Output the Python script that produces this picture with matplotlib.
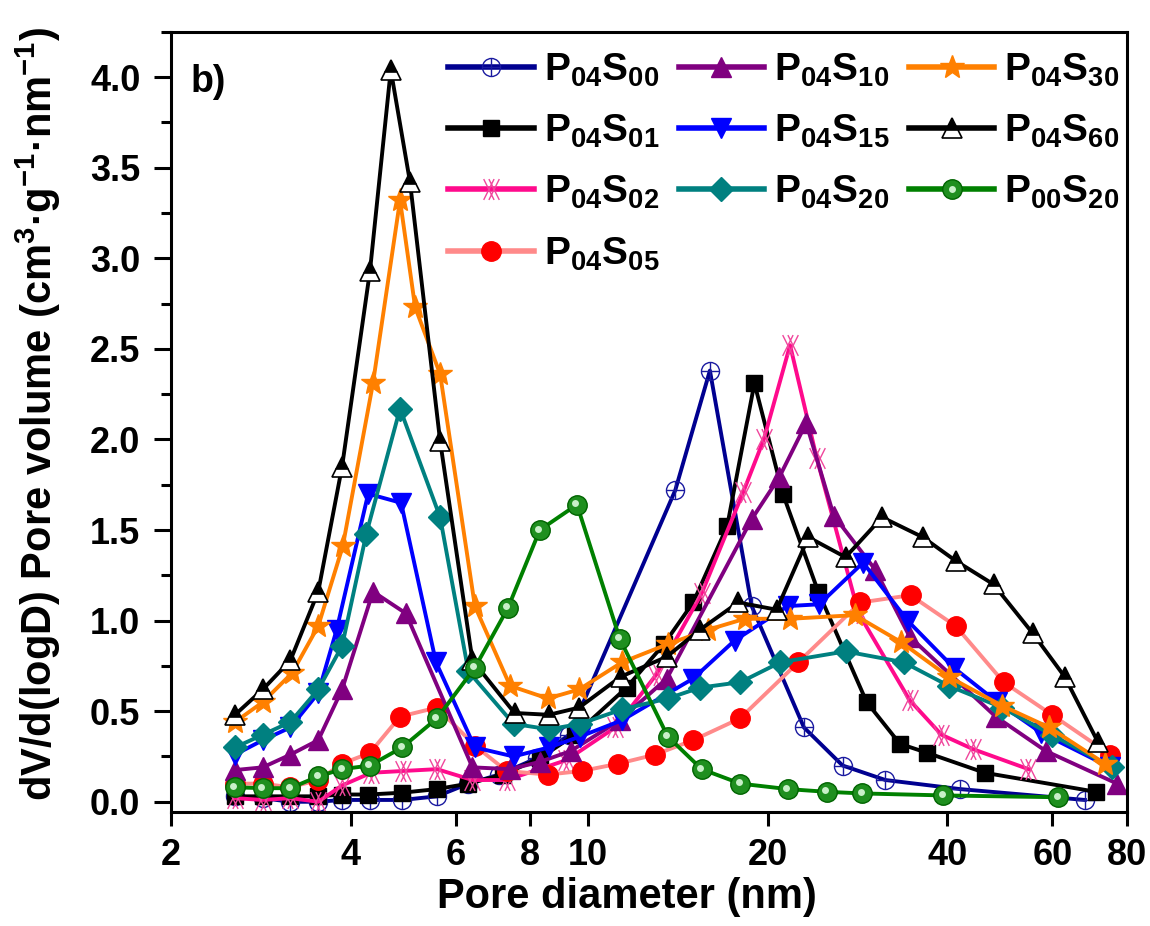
import numpy as np
import matplotlib
matplotlib.use('Agg')
import matplotlib.pyplot as plt
from matplotlib.path import Path
from matplotlib.ticker import FixedLocator, NullLocator, MultipleLocator, FormatStrFormatter
from matplotlib.transforms import offset_copy
from matplotlib.legend_handler import HandlerTuple

plt.rcParams['font.family'] = ['Liberation Sans', 'DejaVu Sans']
plt.rcParams['font.weight'] = 'bold'
plt.rcParams['mathtext.fontset'] = 'custom'
plt.rcParams['mathtext.rm'] = 'Liberation Sans:bold'
plt.rcParams['mathtext.bf'] = 'Liberation Sans:bold'
plt.rcParams['mathtext.it'] = 'Liberation Sans:bold'

# ---- data (pore diameter in nm, dV/dlogD) ----
x_s00 = [2.56, 2.85, 3.17, 3.53, 3.87, 4.31, 4.88, 5.58, 6.3, 7.1, 8.2, 9.3, 14.0, 16.0, 18.8, 23.0, 26.7, 31.5, 42.0, 68.0]
y_s00 = [0.03, 0.02, 0.0, 0.0, 0.01, 0.01, 0.01, 0.03, 0.10, 0.15, 0.24, 0.37, 1.72, 2.38, 1.08, 0.41, 0.20, 0.12, 0.07, 0.01]

x_s01 = [2.56, 2.85, 3.17, 3.53, 3.87, 4.28, 4.88, 5.58, 6.3, 7.2, 8.3, 9.5, 11.6, 13.4, 15.0, 17.1, 19.0, 21.2, 24.3, 29.3, 33.3, 37.0, 46.2, 71.0]
y_s01 = [0.03, 0.03, 0.03, 0.03, 0.04, 0.04, 0.05, 0.07, 0.10, 0.15, 0.24, 0.37, 0.63, 0.87, 1.10, 1.52, 2.31, 1.70, 1.16, 0.55, 0.32, 0.27, 0.16, 0.055]

x_s02 = [2.56, 2.85, 3.17, 3.53, 3.87, 4.33, 4.9, 5.58, 6.4, 7.3, 9.2, 11.1, 13.0, 15.5, 18.2, 19.7, 21.8, 24.15, 28.4, 34.6, 39.1, 44.2, 54.7]
y_s02 = [0.02, 0.01, 0.02, 0.0, 0.09, 0.16, 0.17, 0.18, 0.12, 0.12, 0.23, 0.41, 0.70, 1.15, 1.71, 2.00, 2.52, 1.90, 1.04, 0.56, 0.37, 0.29, 0.18]

x_s05 = [2.56, 2.85, 3.17, 3.53, 3.87, 4.31, 4.84, 5.58, 6.46, 7.3, 8.56, 9.76, 11.23, 12.94, 15.0, 17.97, 22.5, 28.6, 34.7, 41.3, 49.7, 59.9, 75.0]
y_s05 = [0.10, 0.10, 0.08, 0.12, 0.21, 0.27, 0.47, 0.52, 0.31, 0.17, 0.15, 0.17, 0.21, 0.26, 0.34, 0.46, 0.77, 1.10, 1.14, 0.97, 0.66, 0.48, 0.26]

x_s10 = [2.56, 2.85, 3.17, 3.53, 3.87, 4.36, 4.95, 6.4, 7.4, 8.3, 9.35, 11.3, 13.55, 18.8, 20.9, 23.2, 25.8, 30.3, 34.6, 48.2, 58.5, 77.0]
y_s10 = [0.175, 0.19, 0.26, 0.34, 0.62, 1.16, 1.04, 0.19, 0.18, 0.22, 0.28, 0.45, 0.68, 1.56, 1.79, 2.09, 1.58, 1.28, 0.91, 0.47, 0.28, 0.10]

x_s15 = [2.56, 2.85, 3.17, 3.53, 3.79, 4.28, 4.86, 5.56, 6.46, 7.5, 8.6, 9.7, 11.4, 15.0, 17.6, 21.6, 24.4, 28.9, 34.3, 41.0, 48.5, 57.5, 75.0]
y_s15 = [0.26, 0.34, 0.41, 0.60, 0.95, 1.70, 1.65, 0.77, 0.30, 0.25, 0.30, 0.36, 0.45, 0.68, 0.89, 1.08, 1.09, 1.32, 1.00, 0.74, 0.55, 0.38, 0.19]

x_s20 = [2.56, 2.85, 3.17, 3.53, 3.87, 4.25, 4.84, 5.65, 6.3, 7.5, 8.6, 9.7, 11.4, 13.6, 15.4, 18.0, 21.0, 27.0, 33.8, 40.2, 49.4, 59.8, 75.5]
y_s20 = [0.30, 0.37, 0.44, 0.62, 0.86, 1.48, 2.17, 1.57, 0.72, 0.43, 0.40, 0.43, 0.51, 0.57, 0.63, 0.66, 0.77, 0.83, 0.77, 0.64, 0.52, 0.37, 0.19]

x_s30 = [2.56, 2.85, 3.19, 3.53, 3.88, 4.36, 4.84, 5.13, 5.65, 6.46, 7.4, 8.56, 9.66, 11.4, 13.6, 15.9, 18.3, 21.8, 28.0, 33.5, 40.2, 49.4, 59.3, 73.5]
y_s30 = [0.44, 0.55, 0.71, 0.97, 1.41, 2.31, 3.32, 2.73, 2.36, 1.08, 0.64, 0.57, 0.62, 0.77, 0.87, 0.95, 1.01, 1.01, 1.03, 0.88, 0.69, 0.53, 0.41, 0.21]

x_s60 = [2.56, 2.85, 3.17, 3.53, 3.87, 4.31, 4.67, 5.03, 5.65, 6.4, 7.53, 8.6, 9.66, 11.34, 13.54, 15.4, 17.85, 20.7, 23.4, 27.0, 31.1, 36.4, 41.3, 47.8, 55.6, 62.9, 71.5]
y_s60 = [0.48, 0.62, 0.78, 1.16, 1.85, 2.93, 4.04, 3.42, 1.99, 0.78, 0.49, 0.48, 0.52, 0.69, 0.80, 0.95, 1.10, 1.06, 1.46, 1.35, 1.57, 1.46, 1.33, 1.20, 0.93, 0.69, 0.33]

x_p00 = [2.56, 2.85, 3.17, 3.53, 3.87, 4.31, 4.88, 5.58, 6.46, 7.34, 8.3, 9.58, 11.3, 13.6, 15.5, 18.0, 21.6, 25.1, 28.8, 39.4, 61.4]
y_p00 = [0.08, 0.075, 0.075, 0.14, 0.18, 0.20, 0.30, 0.46, 0.74, 1.07, 1.50, 1.64, 0.90, 0.36, 0.18, 0.10, 0.07, 0.055, 0.046, 0.035, 0.025]

x_ticks = [2, 4, 6, 8, 10, 20, 40, 60, 80]
x_ticklabels = ['2', '4', '6', '8', '10', '20', '40', '60', '80']


def lab(p, s):
    return r'$\mathbf{P}_{\mathbf{%s}}\mathbf{S}_{\mathbf{%s}}$' % (p, s)


# double-cross marker for P04S02
dbl_x = Path([(-0.75, -1), (0.25, 1), (-0.75, 1), (0.25, -1),
              (-0.25, -1), (0.75, 1), (-0.25, 1), (0.75, -1)],
             [Path.MOVETO, Path.LINETO] * 4)

LW = 2.8
fig = plt.figure(figsize=(11.5, 9.26), dpi=100)
ax = fig.add_axes([0.1487, 0.1234, 0.8313, 0.8423])

l00, = ax.plot(x_s00, y_s00, color='#000090', lw=LW, marker='o', ms=13, mfc='none', mec='#1a1aa0', mew=1.0)
p00, = ax.plot(x_s00, y_s00, ls='none', marker='+', ms=13, mec='#1a1aa0', mew=1.0)
l01, = ax.plot(x_s01, y_s01, color='black', lw=LW, marker='s', ms=11, mfc='black', mec='black')
l02, = ax.plot(x_s02, y_s02, color='#ff0a8c', lw=LW, marker=dbl_x, ms=15, mfc='none', mec='#f0469c', mew=1.0)
l05, = ax.plot(x_s05, y_s05, color='#ff8a8a', lw=LW, marker='o', ms=14, mfc='red', mec='red')
l10, = ax.plot(x_s10, y_s10, color='#800080', lw=LW, marker='^', ms=15, mfc='#800080', mec='#800080')
l15, = ax.plot(x_s15, y_s15, color='#0000ff', lw=LW, marker='v', ms=15, mfc='#0000ff', mec='#0000ff')
l20, = ax.plot(x_s20, y_s20, color='#008080', lw=LW, marker='D', ms=12, mfc='#008080', mec='#008080')
l30, = ax.plot(x_s30, y_s30, color='#ff8000', lw=LW, marker='*', ms=18, mfc='#ff8000', mec='#ff8000')
l60, = ax.plot(x_s60, y_s60, color='black', lw=LW, marker='^', ms=15, fillstyle='top',
               mfc='black', mfcalt='white', mec='black', mew=1.2)
lp0, = ax.plot(x_p00, y_p00, color='#008000', lw=LW, marker='o', ms=14, mfc='#1f8f1f', mec='#006400', mew=1.0)
hl = offset_copy(ax.transData, fig=fig, x=-1.5, y=1.5, units='dots')
hp0, = ax.plot(x_p00, y_p00, ls='none', marker='o', ms=5, mfc='#c9f0c9', mec='none', transform=hl)

ax.set_xscale('log')
ax.set_xlim(2, 80)
ax.set_ylim(-0.055, 4.25)
ax.xaxis.set_major_locator(FixedLocator(x_ticks))
ax.xaxis.set_minor_locator(NullLocator())
ax.set_xticklabels(x_ticklabels)
ax.yaxis.set_major_locator(MultipleLocator(0.5))
ax.yaxis.set_minor_locator(MultipleLocator(0.25))
ax.yaxis.set_major_formatter(FormatStrFormatter('%.1f'))

for sp in ax.spines.values():
    sp.set_linewidth(2.2)
ax.tick_params(axis='both', which='both', direction='out', width=2.2, labelsize=26)
ax.tick_params(axis='x', which='major', length=10, pad=9)
ax.tick_params(axis='y', which='major', length=12, pad=10)
ax.tick_params(axis='y', which='minor', length=7)

ax.set_xlabel('Pore diameter (nm)', fontsize=30, fontweight='bold')
ax.xaxis.set_label_coords(0.4765, -0.084)
ax.set_ylabel(r'dV/d(logD) Pore volume (cm$^{\mathbf{3}}$·g$^{\mathbf{-1}}$·nm$^{\mathbf{-1}}$)',
              fontsize=30, fontweight='bold')
ax.yaxis.set_label_coords(-0.113, 0.51)

ax.text(0.02, 0.935, 'b)', transform=ax.transAxes, fontsize=27, fontweight='bold', va='center', ha='left')

handles = [(l00, p00), l01, l02, l05, l10, l15, l20, l30, l60, (lp0, hp0)]
labels = [lab('04', '00'), lab('04', '01'), lab('04', '02'), lab('04', '05'),
          lab('04', '10'), lab('04', '15'), lab('04', '20'),
          lab('04', '30'), lab('04', '60'), lab('00', '20')]
leg = ax.legend(handles, labels, ncol=3, loc='upper right', bbox_to_anchor=(0.992, 0.975),
                frameon=False, fontsize=28, handlelength=2.2, handletextpad=0.25,
                columnspacing=0.5, labelspacing=0.62, borderaxespad=0, borderpad=0,
                handler_map={tuple: HandlerTuple(ndivide=1)})
for h in leg.legend_handles:
    h.set_linewidth(4)

plt.savefig('out.png', dpi=100)
